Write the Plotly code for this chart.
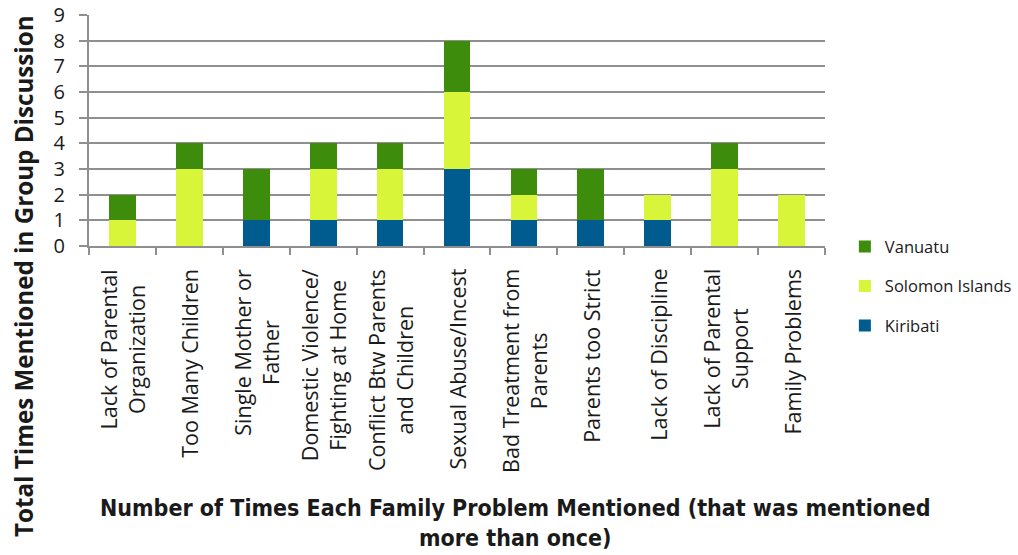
import plotly.graph_objects as go

# Family problems raised in group discussions, stacked by country
categories = [
    "Lack of Parental Organization",
    "Too Many Children",
    "Single Mother or Father",
    "Domestic Violence/ Fighting at Home",
    "Conflict Btw Parents and Children",
    "Sexual Abuse/Incest",
    "Bad Treatment from Parents",
    "Parents too Strict",
    "Lack of Discipline",
    "Lack of Parental Support",
    "Family Problems",
]
tick_labels = [
    "Lack of Parental<br>Organization",
    "Too Many Children",
    "Single Mother or<br>Father",
    "Domestic Violence/<br>Fighting at Home",
    "Conflict Btw Parents<br>and Children",
    "Sexual Abuse/Incest",
    "Bad Treatment from<br>Parents",
    "Parents too Strict",
    "Lack of Discipline",
    "Lack of Parental<br>Support",
    "Family Problems",
]
kiribati = [0, 0, 1, 1, 1, 3, 1, 1, 1, 0, 0]
solomon_islands = [1, 3, 0, 2, 2, 3, 1, 0, 1, 3, 2]
vanuatu = [1, 1, 2, 1, 1, 2, 1, 2, 0, 1, 0]
y_ticks = list(range(0, 10))

# (name, values, colour, legend rank) - first trace sits at the bottom of each stack
series = [
    ("Kiribati", kiribati, "#005b8e", 3),
    ("Solomon Islands", solomon_islands, "#d8f53a", 2),
    ("Vanuatu", vanuatu, "#3e8c0b", 1),
]

fig = go.Figure()
for name, vals, color, rank in series:
    fig.add_trace(go.Bar(
        x=categories, y=vals, name=name, legendgroup=name, legendrank=rank,
        marker=dict(color=color, line=dict(width=0)),
    ))

grid = "#8f8f8f"
text_color = "#1a1a1a"
body_font = "Open Sans, sans-serif"

fig.update_layout(
    width=1018, height=555,
    barmode="stack", bargap=0.6,
    paper_bgcolor="white", plot_bgcolor="white",
    margin=dict(l=89, r=193, t=15, b=309, autoexpand=False),
    showlegend=True,
    legend=dict(
        traceorder="grouped", tracegroupgap=15,
        x=1.027, xanchor="left", xref="paper", y=0.072, yanchor="top",
        font=dict(family=body_font, size=16.5, color=text_color),
        bgcolor="rgba(0,0,0,0)", borderwidth=0,
    ),
    xaxis=dict(
        type="category", showticklabels=False, showgrid=False, automargin=False,
        ticks="outside", tickson="boundaries", ticklen=7, tickwidth=2, tickcolor=grid,
        showline=True, linecolor=grid, linewidth=2,
    ),
    yaxis=dict(
        range=[0, 9], tickvals=y_ticks, ticktext=[str(v) for v in y_ticks],
        automargin=False,
        showgrid=True, gridcolor=grid, gridwidth=2, zeroline=False,
        showline=True, linecolor=grid, linewidth=2,
        ticks="outside", ticklen=8, tickwidth=2, tickcolor=grid,
        ticklabelstandoff=10,
        tickfont=dict(family=body_font, size=20, color=text_color),
    ),
)

# Category labels, rotated with centred lines
for cat, lab in zip(categories, tick_labels):
    fig.add_annotation(
        x=cat, xref="x", y=0, yref="paper", yshift=-21,
        text=lab, textangle=-90, showarrow=False,
        xanchor="center", yanchor="top", align="center",
        font=dict(family=body_font, size=21.5, color=text_color),
    )

# Axis titles
fig.add_annotation(
    x=0, xref="paper", xshift=-66, y=0, yref="paper", yshift=-30,
    text="<b>Total Times Mentioned in Group Discussion</b>", textangle=-90,
    showarrow=False, xanchor="center", yanchor="middle",
    font=dict(family=body_font, size=24.2, color=text_color),
)
fig.add_annotation(
    x=0.579, xref="paper", y=0, yref="paper", yshift=-277,
    text="<b>Number of Times Each Family Problem Mentioned (that was mentioned<br>more than once)</b>",
    showarrow=False, xanchor="center", yanchor="middle", align="center",
    font=dict(family="DejaVu Sans Condensed, Liberation Sans Narrow, sans-serif", size=23, color=text_color),
)

fig.write_html("out.html")
